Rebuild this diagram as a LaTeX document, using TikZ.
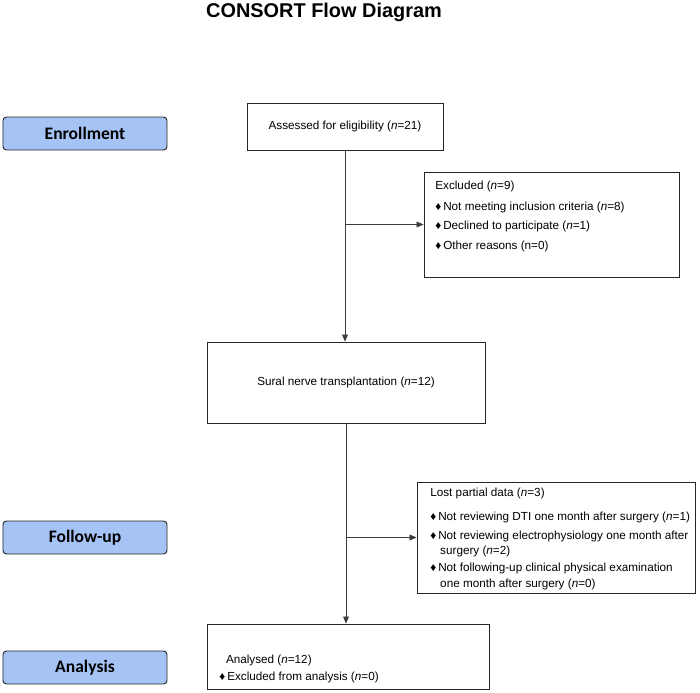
\documentclass[tikz,border=0pt]{standalone}
\usepackage{fontspec}
\setmainfont{Liberation Sans}
\newfontfamily\stagefont{Carlito}
\usetikzlibrary{arrows.meta,positioning}
\definecolor{stageblue}{RGB}{166,195,245}
\definecolor{linegray}{RGB}{60,60,60}

\begin{document}
\begin{tikzpicture}[
x = 0.03cm, y = -0.03cm, % one unit = one pixel of the page
> = {Triangle[length=6pt,width=5pt]}, % arrow head style
semithick, % line style
font = \fontsize{10}{13.5}\selectfont
]

\tikzstyle{stage}=[
draw = black!85,
thick,
fill = stageblue,
rounded corners = 3pt,
minimum width = 4.92cm,
minimum height = 0.99cm,
font = \stagefont\bfseries\fontsize{15}{18}\selectfont
]
\tikzstyle{box}=[draw = black!85, thick, fill = white, inner sep = 0pt]
\tikzstyle{txt}=[inner sep = 0pt, align = left, anchor = north west]
\tikzstyle{flow}=[draw = linegray, ->]

\useasboundingbox (0,0) rectangle (700,692);

\node[font=\bfseries\fontsize{17}{20}\selectfont, anchor=base] (title) at (324,17) {CONSORT Flow Diagram};

% stages on the left
\node[stage] (enrol) at (85,133.5) {Enrollment};
\node[stage] (followup) at (85,537.5) {Follow-up};
\node[stage] (analysis) at (85,667.5) {Analysis};

% boxes
\node[box, minimum width=5.88cm, minimum height=1.41cm] (assessed) at (345,126.5) {Assessed for eligibility (\textit{n}=21)};
\node[box, minimum width=7.65cm, minimum height=3.15cm] (excluded) at (551.5,224.5) {};
\node[box, minimum width=8.34cm, minimum height=2.43cm] (sural) at (346,382.5) {Sural nerve transplantation (\textit{n}=12)};
\node[box, minimum width=8.34cm, minimum height=3.33cm] (lost) at (556,537.5) {};
\node[box, minimum width=8.46cm, minimum height=1.95cm] (analysed) at (348,656.5) {};

\node[txt] (excludedtext) at (435,181) {Excluded (\textit{n}=9)\\[4pt]
♦\,Not meeting inclusion criteria (\textit{n}=8)\\[3pt]
♦\,Declined to participate (\textit{n}=1)\\[3pt]
♦\,Other reasons (n=0)};

\node[txt] (losttext) at (430,488) {Lost partial data (\textit{n}=3)\\[7pt]
♦\,Not reviewing DTI one month after surgery (\textit{n}=1)\\[2pt]
♦\,Not reviewing electrophysiology one month after\\
\phantom{♦\,}\,surgery (\textit{n}=2)\\[1pt]
♦\,Not following-up clinical physical examination\\
\phantom{♦\,}\,one month after surgery (\textit{n}=0)};

\node[txt] (analysedtext) at (219,655) {\hspace{0.2cm}Analysed (\textit{n}=12)\\[1pt]
♦\,Excluded from analysis (\textit{n}=0)};

% connectors
\path[flow] (assessed.south) -- (assessed.south |- sural.north);
\path[flow] (assessed.south |- excluded.west) -- (excluded.west);
\path[flow] (sural.south) -- (sural.south |- analysed.north);
\path[flow] (sural.south |- lost.west) -- (lost.west);

\end{tikzpicture}
\end{document}
